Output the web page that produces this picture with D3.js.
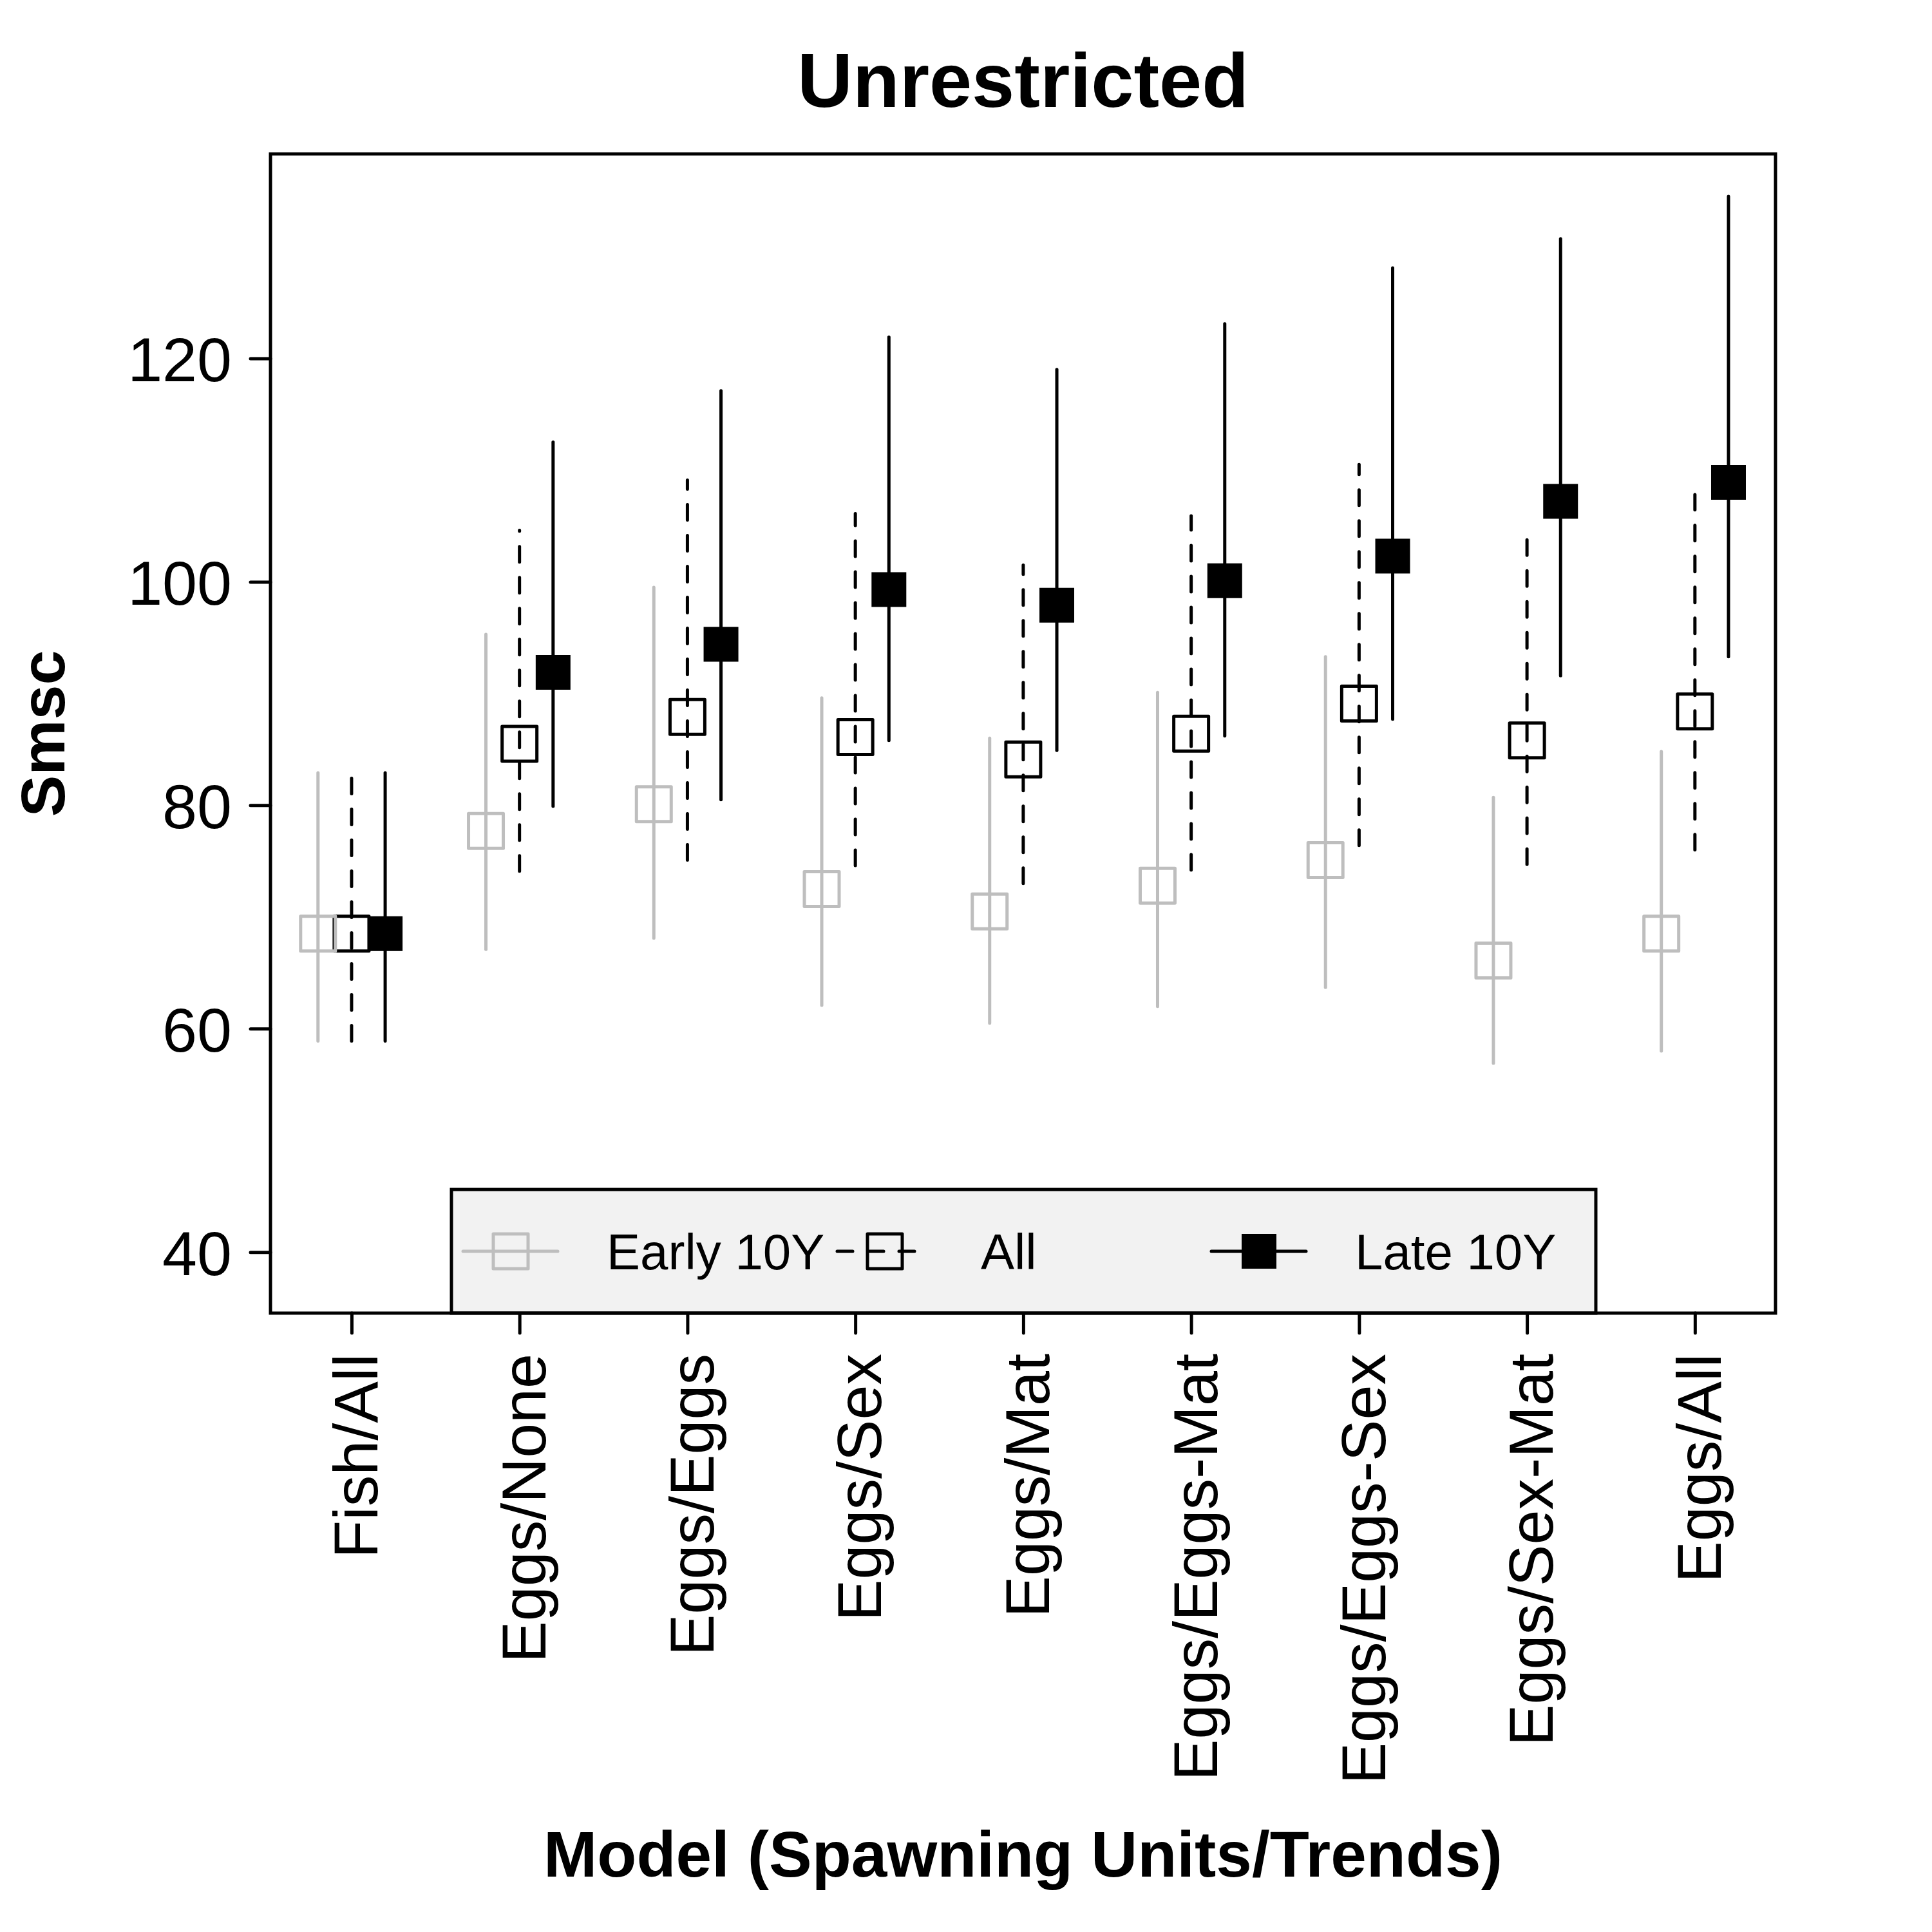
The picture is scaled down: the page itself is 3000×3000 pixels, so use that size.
<!DOCTYPE html>
<html>
<head>
<meta charset="utf-8">
<script src="https://cdn.jsdelivr.net/npm/d3@7"></script>
<style>
  html, body { margin: 0; padding: 0; background: #ffffff; }
  svg { display: block; }
  text { font-family: "Liberation Sans", Arial, Helvetica, sans-serif; }
</style>
</head>
<body>
<svg id="chart" width="3000" height="3000"></svg>
<script>
// ---------------- data ----------------
const categories = ["Fish/All", "Eggs/None", "Eggs/Eggs", "Eggs/Sex", "Eggs/Mat",
                    "Eggs/Eggs-Mat", "Eggs/Eggs-Sex", "Eggs/Sex-Mat", "Eggs/All"];

const earlyMid = [68.5, 77.7, 80.1, 72.5, 70.5, 72.8, 75.1, 66.1, 68.5];
const earlyLo  = [58.9, 67.1, 68.1, 62.1, 60.5, 62.0, 63.7, 56.9, 58.0];
const earlyHi  = [82.9, 95.3, 99.5, 89.6, 86.0, 90.1, 93.3, 80.7, 84.8];

const allMid = [68.5, 85.5, 87.9, 86.1, 84.1, 86.4, 89.1, 85.8, 88.4];
const allLo  = [58.9, 74.1, 75.1, 74.6, 73.0, 74.2, 76.4, 74.7, 76.0];
const allHi  = [82.6, 104.6, 109.1, 106.1, 101.5, 105.9, 110.5, 103.8, 107.8];

const lateMid = [68.5, 91.9, 94.4, 99.3, 97.9, 100.1, 102.3, 107.2, 108.9];
const lateLo  = [58.9, 79.9, 80.5, 85.8, 84.9, 86.2, 87.7, 91.6, 93.3];
const lateHi  = [82.9, 112.5, 117.1, 121.9, 119.0, 123.1, 128.1, 130.7, 134.5];

const yTicks = [40, 60, 80, 100, 120];
const seriesNames = ["Early 10Y", "All", "Late 10Y"];
const seriesOffsets = [-0.2, 0, 0.2];

const titleText = "Unrestricted";
const xTitle = "Model (Spawning Units/Trends)";
const yTitle = "Smsc";

// ---------------- layout ----------------
const plot = { left: 420, right: 2757, top: 239, bottom: 2039 };
const GRAY = "#BEBEBE";
const LW = 5;
const DASH = "24,24";
const SQ = 54;

const svg = d3.select("#chart");

const x = d3.scaleLinear().domain([0.517, 9.48]).range([plot.left, plot.right]);
const y = d3.scaleLinear().domain([34.54, 138.3]).range([plot.bottom, plot.top]);

const styles = [
  { color: GRAY, dash: null, fill: "none" },
  { color: "#000", dash: DASH, fill: "none" },
  { color: "#000", dash: null, fill: "#000" }
];

const series = [
  { name: seriesNames[0], mid: earlyMid, lo: earlyLo, hi: earlyHi, off: seriesOffsets[0], st: styles[0] },
  { name: seriesNames[1], mid: allMid, lo: allLo, hi: allHi, off: seriesOffsets[1], st: styles[1] },
  { name: seriesNames[2], mid: lateMid, lo: lateLo, hi: lateHi, off: seriesOffsets[2], st: styles[2] }
];

// ---------------- axes ----------------
const yAxis = svg.append("g")
  .attr("transform", `translate(${plot.left},0)`)
  .call(d3.axisLeft(y).tickValues(yTicks).tickSize(31).tickPadding(29).tickFormat(d3.format("d")));
yAxis.select(".domain").remove();
yAxis.selectAll(".tick line").attr("stroke", "#000").attr("stroke-width", LW).attr("stroke-linecap", "round");
yAxis.selectAll(".tick text")
  .attr("fill", "#000")
  .style("font-size", "97px")
  .attr("dy", "0.36em");

const xAxis = svg.append("g")
  .attr("transform", `translate(0,${plot.bottom})`)
  .call(d3.axisBottom(x).tickValues(d3.range(1, categories.length + 1))
        .tickSize(31).tickFormat(d => categories[d - 1]));
xAxis.select(".domain").remove();
xAxis.selectAll(".tick line").attr("stroke", "#000").attr("stroke-width", LW).attr("stroke-linecap", "round");
xAxis.selectAll(".tick text")
  .attr("fill", "#000")
  .style("font-size", "97px")
  .style("text-anchor", "end")
  .attr("transform", "rotate(-90)")
  .attr("x", -63)
  .attr("y", 0)
  .attr("dy", "0.41em");

// ---------------- error bars ----------------
series.forEach(s => {
  svg.append("g").selectAll("line")
    .data(categories.map((c, i) => i))
    .join("line")
    .attr("x1", i => x(i + 1 + s.off))
    .attr("x2", i => x(i + 1 + s.off))
    .attr("y1", i => y(s.lo[i]))
    .attr("y2", i => y(s.hi[i]))
    .attr("stroke", s.st.color)
    .attr("stroke-width", LW)
    .attr("stroke-linecap", "round")
    .attr("stroke-dasharray", s.st.dash);
});

// ---------------- points ----------------
const sym = d3.symbol().type(d3.symbolSquare).size(SQ * SQ);
[1, 2, 0].forEach(k => {
  const s = series[k];
  svg.append("g").selectAll("path")
    .data(categories.map((c, i) => i))
    .join("path")
    .attr("d", sym)
    .attr("transform", i => `translate(${x(i + 1 + s.off)},${y(s.mid[i])})`)
    .attr("fill", s.st.fill === "none" ? "none" : s.st.fill)
    .attr("stroke", s.st.fill === "none" ? s.st.color : "none")
    .attr("stroke-width", LW)
    .attr("stroke-linejoin", "round");
});

// ---------------- legend ----------------
const leg = { left: 701, right: 2478, top: 1847, bottom: plot.bottom };
const legCy = (leg.top + leg.bottom) / 2;
svg.append("rect")
  .attr("x", leg.left).attr("y", leg.top)
  .attr("width", leg.right - leg.left).attr("height", leg.bottom - leg.top)
  .attr("fill", "#F2F2F2").attr("stroke", "#000").attr("stroke-width", LW);

const legItem = d3.scaleLinear().domain([0, 1]).range([leg.left + 92, leg.left + 92 + 581]);
series.forEach((s, k) => {
  const cx = legItem(k);
  svg.append("line")
    .attr("x1", cx - 74).attr("x2", s.st.dash ? cx + 68 : cx + 73)
    .attr("y1", legCy).attr("y2", legCy)
    .attr("stroke", s.st.color).attr("stroke-width", LW)
    .attr("stroke-linecap", "round")
    .attr("stroke-dasharray", s.st.dash);
  svg.append("path")
    .attr("d", sym)
    .attr("transform", `translate(${cx},${legCy})`)
    .attr("fill", s.st.fill === "none" ? "none" : s.st.fill)
    .attr("stroke", s.st.fill === "none" ? s.st.color : "none")
    .attr("stroke-width", LW)
    .attr("stroke-linejoin", "round");
  svg.append("text")
    .attr("x", cx + 149).attr("y", legCy)
    .attr("dy", "0.36em")
    .style("font-size", "78px")
    .attr("fill", "#000")
    .text(s.name);
});

// ---------------- frame ----------------
svg.append("rect")
  .attr("x", plot.left).attr("y", plot.top)
  .attr("width", plot.right - plot.left).attr("height", plot.bottom - plot.top)
  .attr("fill", "none").attr("stroke", "#000").attr("stroke-width", LW);

// ---------------- titles ----------------
const cxPlot = (plot.left + plot.right) / 2;
svg.append("text")
  .attr("x", cxPlot).attr("y", 166)
  .attr("text-anchor", "middle")
  .style("font-size", "119px").style("font-weight", "bold")
  .text(titleText);

svg.append("text")
  .attr("x", cxPlot).attr("y", 2914)
  .attr("text-anchor", "middle")
  .style("font-size", "100px").style("font-weight", "bold")
  .text(xTitle);

svg.append("text")
  .attr("transform", `translate(100,${(plot.top + plot.bottom) / 2}) rotate(-90)`)
  .attr("text-anchor", "middle")
  .style("font-size", "97px").style("font-weight", "bold")
  .text(yTitle);
</script>
</body>
</html>
